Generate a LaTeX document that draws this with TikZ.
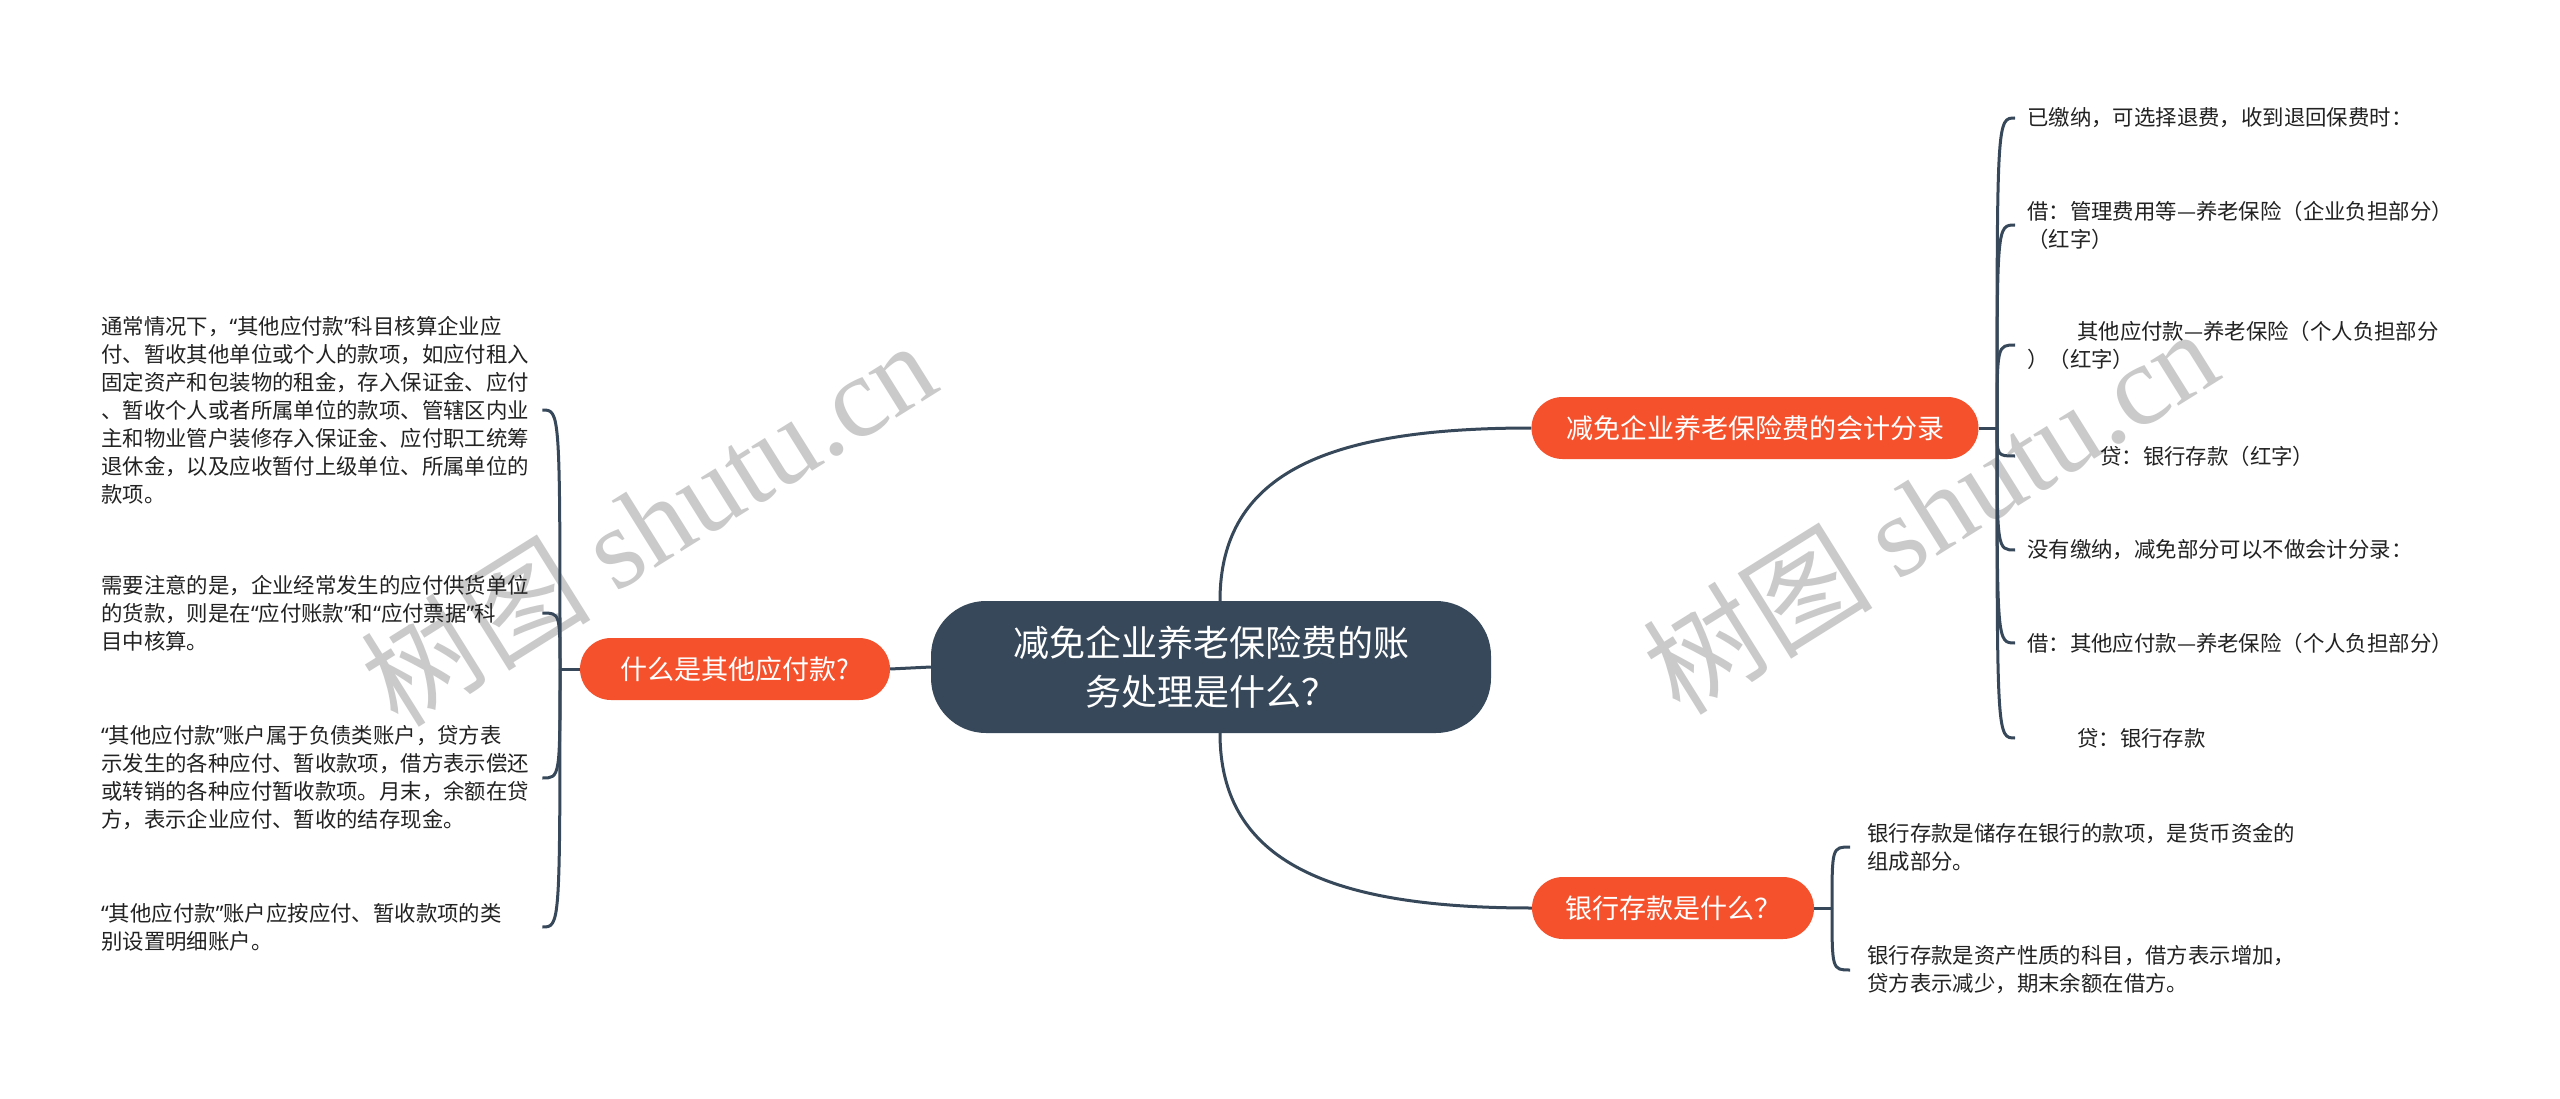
\documentclass[tikz,border=0pt]{standalone}
\usepackage{fontspec}
\setmainfont{Noto Sans CJK SC}
\newfontfamily\wmlatin{Liberation Serif}
\newfontfamily\qfont{Noto Sans}
\newcommand\qop{{\qfont “}}
\newcommand\qcl{{\qfont ”}}
\definecolor{darkc}{HTML}{36485A}
\definecolor{orangec}{HTML}{F5512C}
\definecolor{wmc}{HTML}{CACACA}
\definecolor{leafc}{HTML}{222222}
\begin{document}
\begin{tikzpicture}[x=1pt,y=-1pt,
  conn/.style={draw=darkc,line width=3pt},
  centernode/.style={fill=darkc,text=white,rounded corners=55pt,minimum width=560pt,minimum height=132pt,inner sep=0pt,font=\fontsize{36}{49}\selectfont,align=center},
  branch/.style={fill=orangec,text=white,rounded corners=31pt,minimum height=62pt,inner sep=0pt,font=\fontsize{27}{32}\selectfont},
  leaf/.style={anchor=west,inner sep=0pt,align=left,text=leafc,font=\fontsize{21.4}{28}\selectfont},
  lleaf/.style={leaf,text width=441pt},
  wm/.style={text=wmc,rotate=32,inner sep=0pt,font=\fontsize{115}{115}\selectfont}
]
\useasboundingbox (0,0) rectangle (2560,1099);
\fill[white] (0,0) rectangle (2560,1099);

% watermarks
\node[wm] (wm1) at (648,522) {树图 {\wmlatin shutu.cn}};
\node[wm] (wm2) at (1930,510) {树图 {\wmlatin shutu.cn}};

% main nodes
\node[centernode] (c) at (1211,667) {减免企业养老保险费的账\\务处理是什么？};
\node[branch,minimum width=310pt] (b0) at (735,669) {什么是其他应付款?};
\node[branch,minimum width=447pt] (b1) at (1755,428) {减免企业养老保险费的会计分录};
\node[branch,minimum width=282pt] (b2) at (1673,908) {银行存款是什么？};

% right-top leaves
\node[leaf] (r1) at (2027,118) {已缴纳，可选择退费，收到退回保费时：};
\node[leaf] (r2) at (2027,225) {借：管理费用等—养老保险（企业负担部分）\\（红字）};
\node[leaf] (r3) at (2027,345) {\hspace*{50pt}其他应付款—养老保险（个人负担部分\\）（红字）};
\node[leaf] (r4) at (2027,456) {\hspace*{73pt}贷：银行存款（红字）};
\node[leaf] (r5) at (2027,550) {没有缴纳，减免部分可以不做会计分录：};
\node[leaf] (r6) at (2027,643) {借：其他应付款—养老保险（个人负担部分）};
\node[leaf] (r7) at (2027,738) {\hspace*{50pt}贷：银行存款};

% bottom-right leaves
\node[leaf] (s1) at (1867,847) {银行存款是储存在银行的款项，是货币资金的\\组成部分。};
\node[leaf] (s2) at (1867,970) {银行存款是资产性质的科目，借方表示增加，\\贷方表示减少，期末余额在借方。};

% left leaves
\node[lleaf] (l1) at (101,410) {通常情况下，\qop 其他应付款\qcl 科目核算企业应\\付、暂收其他单位或个人的款项，如应付租入\\固定资产和包装物的租金，存入保证金、应付\\、暂收个人或者所属单位的款项、管辖区内业\\主和物业管户装修存入保证金、应付职工统筹\\退休金，以及应收暂付上级单位、所属单位的\\款项。};
\node[lleaf] (l2) at (101,613) {需要注意的是，企业经常发生的应付供货单位\\的货款，则是在\qop 应付账款\qcl 和\qop 应付票据\qcl 科\\目中核算。};
\node[lleaf] (l3) at (101,778) {\qop 其他应付款\qcl 账户属于负债类账户，贷方表\\示发生的各种应付、暂收款项，借方表示偿还\\或转销的各种应付暂收款项。月末，余额在贷\\方，表示企业应付、暂收的结存现金。};
\node[lleaf] (l4) at (101,927) {\qop 其他应付款\qcl 账户应按应付、暂收款项的类\\别设置明细账户。};

% junctions
\coordinate (j0) at (560,669);
\coordinate (j1) at (1997,428);
\coordinate (j2) at (1832,908);

% center connectors
\draw[conn] (c.west) -- (b0.east);
\draw[conn] ([xshift=9pt]c.north) .. controls +(0,-130) and +(-200,0) .. (b1.west);
\draw[conn] ([xshift=9pt]c.south) .. controls +(0,130) and +(-200,0) .. (b2.west);

% left branch
\draw[conn] (b0.west) -- (j0);
\foreach \n in {l1,l2,l3,l4}{
  \draw[conn] (j0) .. controls (j0 |- \n.east) and (j0 |- \n.east) .. (\n.east);
}

% right-top branch
\draw[conn] (b1.east) -- (j1);
\foreach \n in {r1,r2,r3,r4,r5,r6,r7}{
  \draw[conn] (j1) .. controls (j1 |- \n.west) and (j1 |- \n.west) .. ([xshift=-12pt]\n.west);
}

% bottom-right branch
\draw[conn] (b2.east) -- (j2);
\foreach \n in {s1,s2}{
  \draw[conn] (j2) .. controls (j2 |- \n.west) and (j2 |- \n.west) .. ([xshift=-17pt]\n.west);
}
\end{tikzpicture}
\end{document}
